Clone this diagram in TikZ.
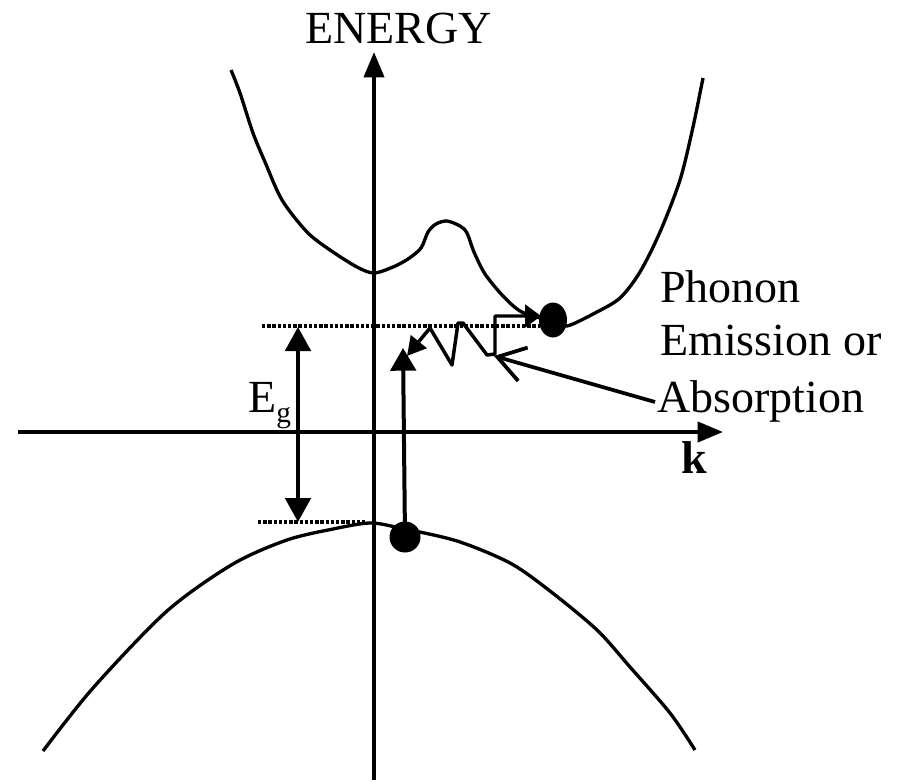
\documentclass[tikz,border=0pt]{standalone}
\usepackage{fontspec}
\setmainfont{Liberation Serif}
\usetikzlibrary{arrows.meta}
\begin{document}
\begin{tikzpicture}[x=0.75pt,y=-0.75pt,
  axis/.style={line width=3pt,-{Triangle[length=19pt,width=15pt]}},
  band/.style={line width=2.5pt,smooth,tension=0.5,line join=round},
  dotline/.style={line width=2.6pt,dash pattern=on 2.6pt off 1.3pt},
  bigtip/.style={line width=2.8pt},
  lbl/.style={font=\fontsize{34.5}{40}\selectfont,inner sep=0pt,anchor=base west}]
\useasboundingbox (0,0) rectangle (901,782);
% axes
\coordinate (ybot) at (374,780);
\coordinate (ytop) at (374,52);
\coordinate (xl) at (18,432);
\coordinate (xr) at (723,432);
\draw[axis] (ybot) -- (ytop);
\draw[axis] (xl) -- (xr);
% labels
\node[lbl] (energy) at (305,43) {ENERGY};
\node[lbl,font=\fontsize{34.5}{40}\selectfont\bfseries] (k) at (681,473) {k};
\node[lbl] (phonon) at (660,302) {Phonon};
\node[lbl] (emission) at (660,355) {Emission or};
\node[lbl] (absorb) at (657,412) {Absorption};
\node[lbl] (eg) at (248,412) {E\raisebox{-8pt}{\fontsize{22}{24}\selectfont g}};
% conduction band
\draw[band] plot coordinates {(231,70) (240,93) (253,133) (265,162) (282,200) (307,232) (330,250) (357,267) (374,273) (393,267) (408,259) (421,248) (428,232) (436,224) (447,221) (460,226) (467,233) (474,252) (485,274) (503,296) (520,311) (540,318) (553,321) (567,326) (595,313) (620,298) (640,272) (660,232) (680,180) (693,127) (703,78)};
% valence band
\draw[band] plot coordinates {(43,751) (93,688) (167,611) (233,564) (287,540) (333,529) (370,523) (400,528) (457,541) (510,563) (550,591) (597,630) (630,667) (670,713) (695,750)};
% dotted levels
\coordinate (cl) at (262,326);
\coordinate (cr) at (540,326);
\coordinate (vl) at (258,522);
\coordinate (vr) at (366,522);
\draw[dotline] (cl) -- (cr);
\draw[dotline] (vl) -- (vr);
% electrons
\coordinate (ec) at (553,320);
\coordinate (hv) at (405,537);
\fill (ec) ellipse [x radius=14, y radius=17.5];
\fill (hv) circle [radius=15.5];
% Eg arrow
\coordinate (egt) at (298,327);
\coordinate (egb) at (298,522);
\draw[line width=3pt,{Triangle[length=18pt,width=19pt]}-{Triangle[length=18pt,width=19pt]}] (egt) -- (egb);
% vertical transition
\coordinate (vt) at (403,348);
\draw[line width=3pt,-{Triangle[length=17pt,width=19pt]}] (hv) -- (vt);
% zigzag phonon path
\coordinate (z0) at (407,356);
\coordinate (z1) at (430,328);
\coordinate (z2) at (452,365);
\coordinate (z3) at (458,323);
\coordinate (z4) at (463,323);
\coordinate (z5) at (487,355);
\coordinate (z6) at (495,354);
\coordinate (z7) at (495,316);
\coordinate (z8) at (541,316);
\draw[line width=2.6pt,line join=round,{Triangle[length=14pt,width=15pt]}-{Triangle[length=12pt,width=17pt]}] (z0) -- (z1) -- (z2) -- (z3) -- (z4) -- (z5) -- (z6) -- (z7) -- (z8);
% pointer arrow
\coordinate (pa) at (655,402);
\coordinate (pt) at (494,356);
\draw[bigtip,-{Straight Barb[length=20pt,width=26pt,line width=2.8pt]}] (pa) -- (pt);
\end{tikzpicture}
\end{document}
